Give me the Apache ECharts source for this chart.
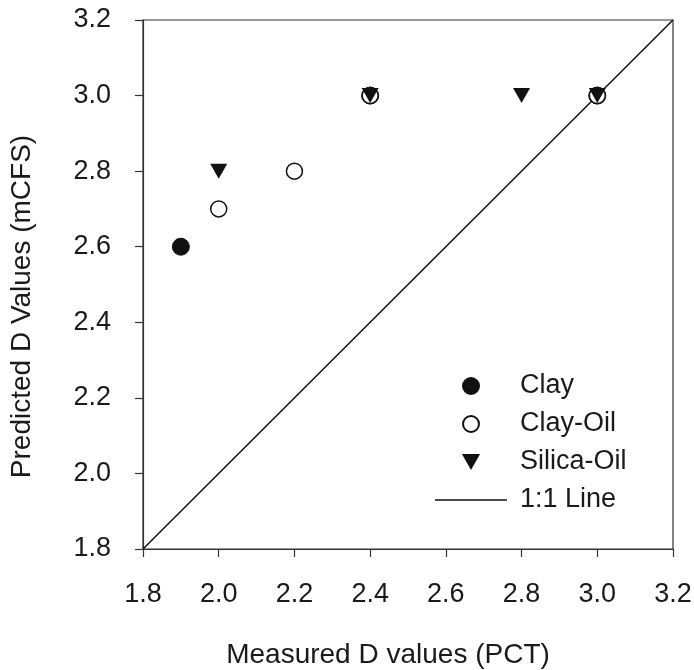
<!DOCTYPE html>
<html><head><meta charset="utf-8">
<script src="https://cdn.jsdelivr.net/npm/echarts@6/dist/echarts.min.js"></script>
<style>html,body{margin:0;padding:0;background:#fff}#c{width:694px;height:670px}</style>
</head><body><div id="c"></div>
<script>
const clayX = [1.9, 2.4, 3.0];
const clayY = [2.6, 3.0, 3.0];
const clayOilX = [2.0, 2.2, 2.4, 3.0];
const clayOilY = [2.7, 2.8, 3.0, 3.0];
const silicaOilX = [2.0, 2.4, 2.8, 3.0];
const silicaOilY = [2.8, 3.0, 3.0, 3.0];
const oneToOneX = [1.8, 3.2];
const oneToOneY = [1.8, 3.2];
const seriesNames = ['Clay', 'Clay-Oil', 'Silica-Oil', '1:1 Line'];
const xTitle = 'Measured D values (PCT)';
const yTitle = 'Predicted D Values (mCFS)';

const pairs = (xs, ys) => xs.map((x, i) => [x, ys[i]]);
const font = 'Liberation Sans, Arial, sans-serif';
const ink = '#1a1a1a';

const chart = echarts.init(document.getElementById('c'), null, {renderer: 'canvas'});
const axisCommon = {
  min: 1.8, max: 3.2, interval: 0.2,
  axisLine: {show: true, lineStyle: {color: '#333', width: 1.2}},
  axisTick: {show: true, inside: false, length: 8, lineStyle: {color: '#333', width: 1.2}},
  splitLine: {show: false},
  nameLocation: 'middle'
};
chart.setOption({
  animation: false,
  backgroundColor: '#fff',
  grid: {left: 143, right: 21, top: 20, bottom: 121, show: true, borderColor: '#333', borderWidth: 1.2,
         containLabel: false, outerBoundsMode: 'none'},
  xAxis: Object.assign({}, axisCommon, {
    type: 'value', name: xTitle, nameGap: 92,
    nameTextStyle: {fontFamily: font, fontSize: 28, color: ink, padding: [0, 40, 0, 0]},
    axisLabel: {margin: 32, fontFamily: font, fontSize: 27, color: ink, formatter: v => v.toFixed(1)}
  }),
  yAxis: Object.assign({}, axisCommon, {
    type: 'value', name: yTitle, nameGap: 107,
    nameTextStyle: {fontFamily: font, fontSize: 28, color: ink, padding: [0, 44, 0, 0]},
    axisLabel: {margin: 32, fontFamily: font, fontSize: 27, color: ink, formatter: v => v.toFixed(1)}
  }),
  legend: {
    orient: 'vertical', left: 430, top: 366,
    itemWidth: 72, itemHeight: 16, itemGap: 8,
    symbolKeepAspect: true,
    symbolRotate: 0,
    textStyle: {fontFamily: font, fontSize: 27, color: ink, lineHeight: 30, padding: [0, 0, 0, 8]},
    data: [
      {name: seriesNames[0], icon: 'circle'},
      {name: seriesNames[1], icon: 'circle'},
      {name: seriesNames[2], icon: 'path://M0,0 L17,0 L8.5,15 Z', itemStyle: {color: '#111'}},
      {name: seriesNames[3], icon: 'path://M0,0 L72,0 L72,1.5 L0,1.5 Z', itemStyle: {color: '#111'}}
    ]
  },
  series: [
    {name: seriesNames[0], type: 'scatter', symbol: 'circle', symbolSize: 17, z: 2,
     itemStyle: {color: '#111', borderColor: '#111', borderWidth: 1, opacity: 1},
     data: pairs(clayX, clayY)},
    {name: seriesNames[1], type: 'scatter', symbol: 'circle', symbolSize: 16, z: 3,
     itemStyle: {color: '#fff', borderColor: '#111', borderWidth: 1.5, opacity: 1},
     data: pairs(clayOilX, clayOilY)},
    {name: seriesNames[2], type: 'scatter', symbol: 'triangle', symbolRotate: 180, symbolSize: [17, 15], z: 4,
     itemStyle: {color: '#111', opacity: 1},
     data: pairs(silicaOilX, silicaOilY)},
    {name: seriesNames[3], type: 'line', symbol: 'none', z: 1,
     lineStyle: {color: '#111', width: 1.5}, itemStyle: {color: '#111'},
     data: pairs(oneToOneX, oneToOneY)}
  ]
});
</script></body></html>
